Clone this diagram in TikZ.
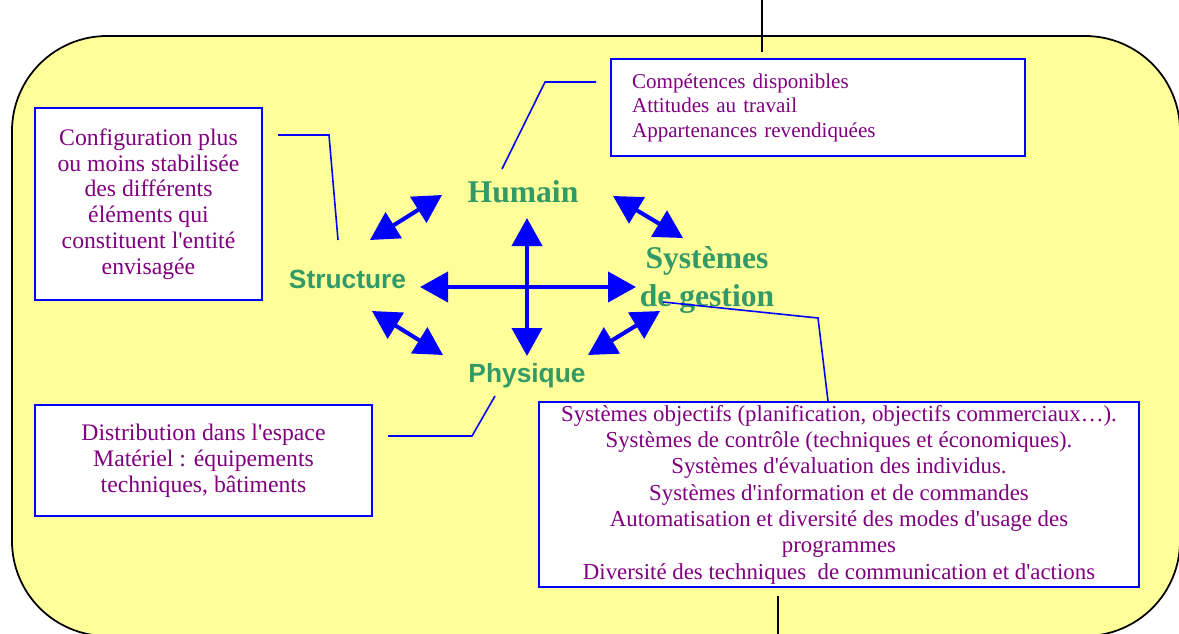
\documentclass[tikz,border=0pt]{standalone}
\usepackage{fontspec}
\setmainfont{Liberation Serif}
\setsansfont{Liberation Sans}
\usetikzlibrary{arrows.meta,positioning}

\definecolor{fondjaune}{RGB}{255,255,153}
\definecolor{textviolet}{RGB}{128,0,128}
\definecolor{vertpole}{RGB}{51,153,102}
\newcommand{\apo}{\textquotesingle}

\tikzset{
  infobox/.style={draw=blue, line width=1.1pt, fill=white, text=textviolet, align=center, inner sep=0pt},
  pole/.style={text=vertpole, font=\bfseries\fontsize{18}{21.5}\selectfont, inner sep=0pt, align=center},
  polesf/.style={pole, font=\sffamily\bfseries\fontsize{15}{18}\selectfont},
  lien/.style={draw=blue, line width=0.9pt},
  fleche/.style={blue, line width=2.3pt, {Triangle[length=0.56cm,width=0.6cm]}-{Triangle[length=0.56cm,width=0.6cm]}},
}

\begin{document}
\begin{tikzpicture}[x=0.02cm, y=-0.02cm]
  \useasboundingbox (0,0) rectangle (1179,633);

  % fond
  \draw[fill=fondjaune, line width=1pt, rounded corners=1.9cm] (12,36) rectangle (1180,636);
  \draw[line width=0.8pt] (762,0) -- (762,52);
  \draw[line width=0.8pt] (778,596) -- (778,640);

  % encadres
  \node[infobox, minimum width=4.54cm, minimum height=3.84cm, font=\fontsize{13.5}{14.7}\selectfont] (config) at (148.5,204)
    {Configuration plus\\ou moins stabilisée\\des différents\\éléments qui\\constituent l\apo entité\\envisagée};
  \node[infobox, minimum width=8.28cm, minimum height=1.94cm, text width=7.44cm, align=left, font=\fontsize{12}{13.9}\selectfont] (compet) at (818,107.5)
    {Compétences disponibles\\Attitudes au travail\\Appartenances revendiquées};
  \node[infobox, minimum width=6.74cm, minimum height=2.22cm, font=\fontsize{13.5}{14.8}\selectfont] (distrib) at (203.5,460.5)
    {Distribution dans l\apo espace\\Matériel : équipements\\techniques, bâtiments};
  \node[infobox, minimum width=12cm, minimum height=3.7cm, font=\fontsize{13}{15}\selectfont] (systemes) at (839,494.5)
    {Systèmes objectifs (planification, objectifs commerciaux…).\\
     Systèmes de contrôle (techniques et économiques).\\
     Systèmes d\apo évaluation des individus.\\
     Systèmes d\apo information et de commandes\\
     Automatisation et diversité des modes d\apo usage des\\
     programmes\\
     Diversité des techniques\ \ de communication et d\apo actions};

  % poles
  \node[pole, anchor=base] (humain) at (523,202) {Humain};
  \node[pole] (gestion) at (707,280) {Systèmes\\de gestion};
  \node[polesf, anchor=base] (structure) at (347.5,288) {Structure};
  \node[polesf, anchor=base] (physique) at (527,382) {Physique};

  % fleches
  \coordinate (hg) at (420,287);
  \coordinate (hd) at (636,287);
  \coordinate (vh) at (527,218);
  \coordinate (vb) at (527,356);
  \draw[fleche] (hg) -- (hd);
  \draw[fleche] (vh) -- (vb);
  \coordinate (sh1) at (370,240);
  \coordinate (sh2) at (442,195);
  \draw[fleche] (sh1) -- (sh2);
  \coordinate (hs1) at (613,196);
  \coordinate (hs2) at (683,238);
  \draw[fleche] (hs1) -- (hs2);
  \coordinate (sp1) at (372,311);
  \coordinate (sp2) at (443,355);
  \draw[fleche] (sp1) -- (sp2);
  \coordinate (pg1) at (588,355);
  \coordinate (pg2) at (660,311);
  \draw[fleche] (pg1) -- (pg2);

  % liens vers les encadres
  \coordinate (c1) at (278,135);
  \coordinate (c2) at (338,240);
  \draw[lien] (c1) -- (329,135) -- (c2);
  \coordinate (h1) at (502,169);
  \coordinate (h2) at (596,82);
  \draw[lien] (h1) -- (545,82) -- (h2);
  \coordinate (d1) at (388,436);
  \coordinate (d2) at (495,396);
  \draw[lien] (d1) -- (472,436) -- (d2);
  \coordinate (g1) at (663,302);
  \draw[lien] (g1) -- (818,318) -- (systemes.north -| 828,0);
\end{tikzpicture}
\end{document}
